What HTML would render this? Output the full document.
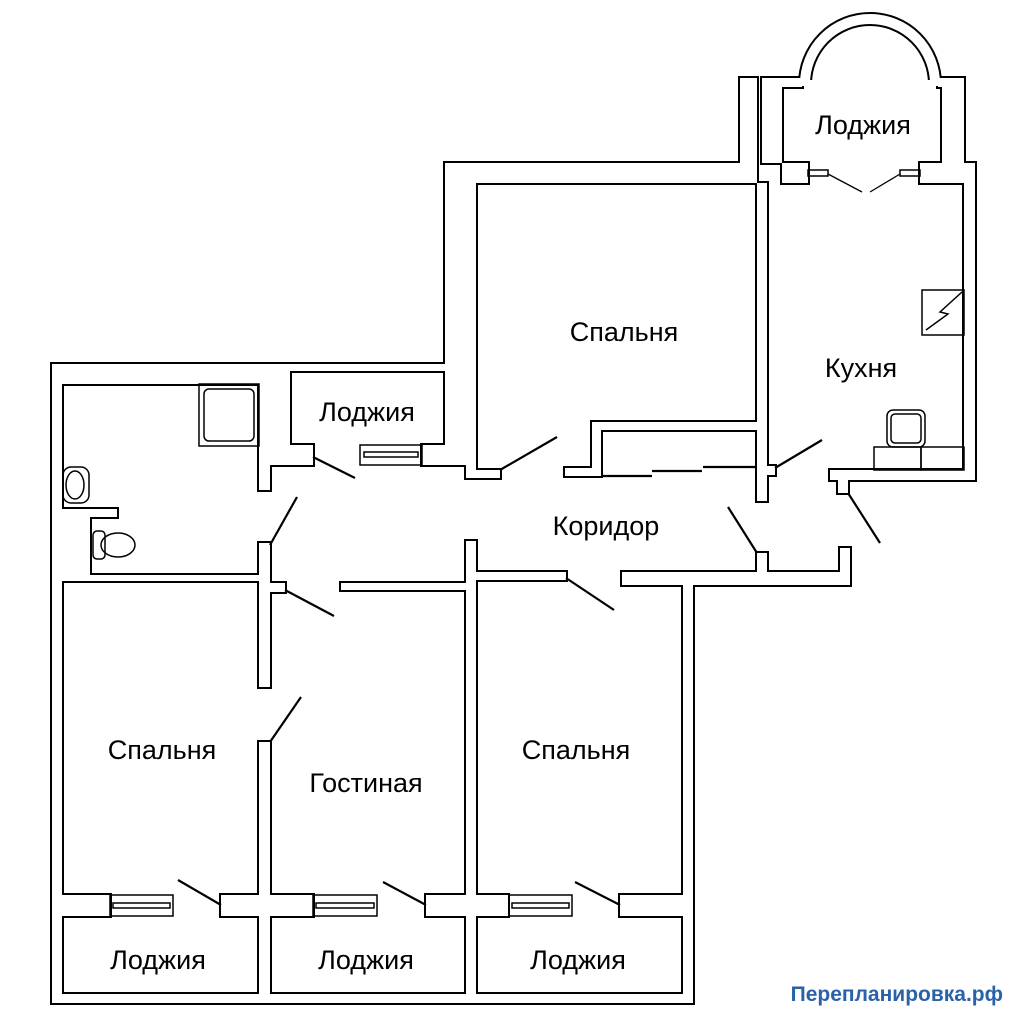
<!DOCTYPE html>
<html><head><meta charset="utf-8"><style>
html,body{margin:0;padding:0;background:#fff;}
svg{display:block;}
text{font-family:"Liberation Sans",sans-serif;font-size:27px;fill:#000;}
</style></head><body>
<svg width="1024" height="1024" viewBox="0 0 1024 1024" xmlns="http://www.w3.org/2000/svg">
<defs>
<g id="w">
<rect x="52" y="364" width="10" height="639"/>
<rect x="52" y="994" width="641" height="9"/>
<rect x="683" y="585" width="10" height="418"/>
<rect x="52" y="364" width="218" height="20"/>
<rect x="270" y="364" width="175" height="7"/>
<rect x="259" y="364" width="11" height="126"/>
<rect x="270" y="364" width="20" height="101"/>
<rect x="270" y="445" width="43" height="20"/>
<rect x="422" y="445" width="44" height="20"/>
<rect x="445" y="163" width="21" height="302"/>
<rect x="466" y="183" width="10" height="295"/>
<rect x="445" y="163" width="295" height="20"/>
<rect x="740" y="78" width="17" height="105"/>
<rect x="762" y="78" width="20" height="85"/>
<rect x="782" y="163" width="26" height="20"/>
<rect x="920" y="163" width="22" height="20"/>
<rect x="942" y="78" width="22" height="105"/>
<rect x="964" y="163" width="11" height="317"/>
<rect x="762" y="78" width="40" height="9"/>
<rect x="938" y="78" width="26" height="9"/>
<rect x="757" y="183" width="10" height="318"/>
<rect x="767" y="466" width="8" height="9"/>
<rect x="592" y="422" width="165" height="8"/>
<rect x="592" y="422" width="9" height="54"/>
<rect x="565" y="468" width="36" height="8"/>
<rect x="476" y="470" width="24" height="8"/>
<rect x="830" y="470" width="145" height="10"/>
<rect x="838" y="480" width="10" height="13"/>
<rect x="757" y="553" width="10" height="32"/>
<rect x="840" y="548" width="10" height="37"/>
<rect x="622" y="572" width="228" height="13"/>
<rect x="466" y="541" width="10" height="453"/>
<rect x="476" y="572" width="90" height="8"/>
<rect x="341" y="583" width="125" height="7"/>
<rect x="259" y="543" width="11" height="144"/>
<rect x="270" y="583" width="15" height="9"/>
<rect x="259" y="742" width="11" height="252"/>
<rect x="62" y="575" width="197" height="6"/>
<rect x="62" y="509" width="55" height="8"/>
<rect x="62" y="517" width="28" height="58"/>
<rect x="62" y="895" width="48" height="21"/>
<rect x="221" y="895" width="92" height="21"/>
<rect x="426" y="895" width="82" height="21"/>
<rect x="620" y="895" width="63" height="21"/>
</g>
</defs>
<path d="M805,84 A65,65 0 0 1 935,84" fill="none" stroke="#000" stroke-width="14"/>
<use href="#w" fill="#000" stroke="#000" stroke-width="4"/>
<path d="M805,84 A65,65 0 0 1 935,84" fill="none" stroke="#fff" stroke-width="10"/>
<use href="#w" fill="#fff"/>
<rect x="800" y="80" width="140" height="6" fill="#fff"/>

<g fill="none" stroke="#000" stroke-width="1.5">
<rect x="360" y="445" width="62" height="20"/><rect x="364" y="452" width="54" height="5"/>
<rect x="110" y="895" width="63" height="21"/><rect x="113" y="903" width="57" height="5"/>
<rect x="313" y="895" width="64" height="21"/><rect x="316" y="903" width="58" height="5"/>
<rect x="509" y="895" width="63" height="21"/><rect x="512" y="903" width="57" height="5"/>
<rect x="808" y="170" width="20" height="6"/><rect x="900" y="170" width="20" height="6"/>
<rect x="199" y="384" width="60" height="62"/><rect x="204" y="389" width="50" height="52" rx="5"/>
<rect x="63" y="467" width="26" height="36" rx="8"/><ellipse cx="75" cy="485" rx="9" ry="14"/>
<rect x="93" y="531" width="12" height="28" rx="4"/><ellipse cx="118" cy="545" rx="17" ry="12"/>
<rect x="922" y="290" width="42" height="45"/>
<polyline points="962,292 940,312 948,314 926,330"/>
<rect x="887" y="410" width="38" height="37" rx="6"/><rect x="891" y="414" width="30" height="29" rx="4"/>
<rect x="874" y="447" width="47" height="23"/><rect x="921" y="447" width="43" height="23"/>
</g>
<g stroke="#000" stroke-width="2.2">
<line x1="313" y1="457" x2="355" y2="478"/>
<line x1="270" y1="545" x2="297" y2="497"/>
<line x1="285" y1="590" x2="334" y2="616"/>
<line x1="270" y1="742" x2="301" y2="697"/>
<line x1="178" y1="880" x2="221" y2="905"/>
<line x1="383" y1="882" x2="426" y2="905"/>
<line x1="575" y1="882" x2="620" y2="905"/>
<line x1="500" y1="470" x2="557" y2="437"/>
<line x1="775" y1="468" x2="822" y2="440"/>
<line x1="848" y1="493" x2="880" y2="543"/>
<line x1="757" y1="553" x2="728" y2="507"/>
<line x1="566" y1="578" x2="614" y2="610"/>
<line x1="602" y1="476" x2="652" y2="476"/>
<line x1="652" y1="471" x2="702" y2="471"/>
<line x1="703" y1="467" x2="755" y2="467"/>
</g>
<g stroke="#000" stroke-width="1.3">
<line x1="828" y1="174" x2="862" y2="192"/>
<line x1="900" y1="174" x2="870" y2="192"/>
</g>
<g text-anchor="middle">
<text x="367" y="421">Лоджия</text>
<text x="863" y="134">Лоджия</text>
<text x="158" y="969">Лоджия</text>
<text x="366" y="969">Лоджия</text>
<text x="578" y="969">Лоджия</text>
<text x="624" y="341">Спальня</text>
<text x="162" y="759">Спальня</text>
<text x="576" y="759">Спальня</text>
<text x="861" y="377">Кухня</text>
<text x="606" y="535">Коридор</text>
<text x="366" y="792">Гостиная</text>
</g>
<text x="1003" y="1001" text-anchor="end" style="font-size:21px;font-weight:bold;fill:#2a62aa;">Перепланировка.рф</text>
</svg>
</body></html>
